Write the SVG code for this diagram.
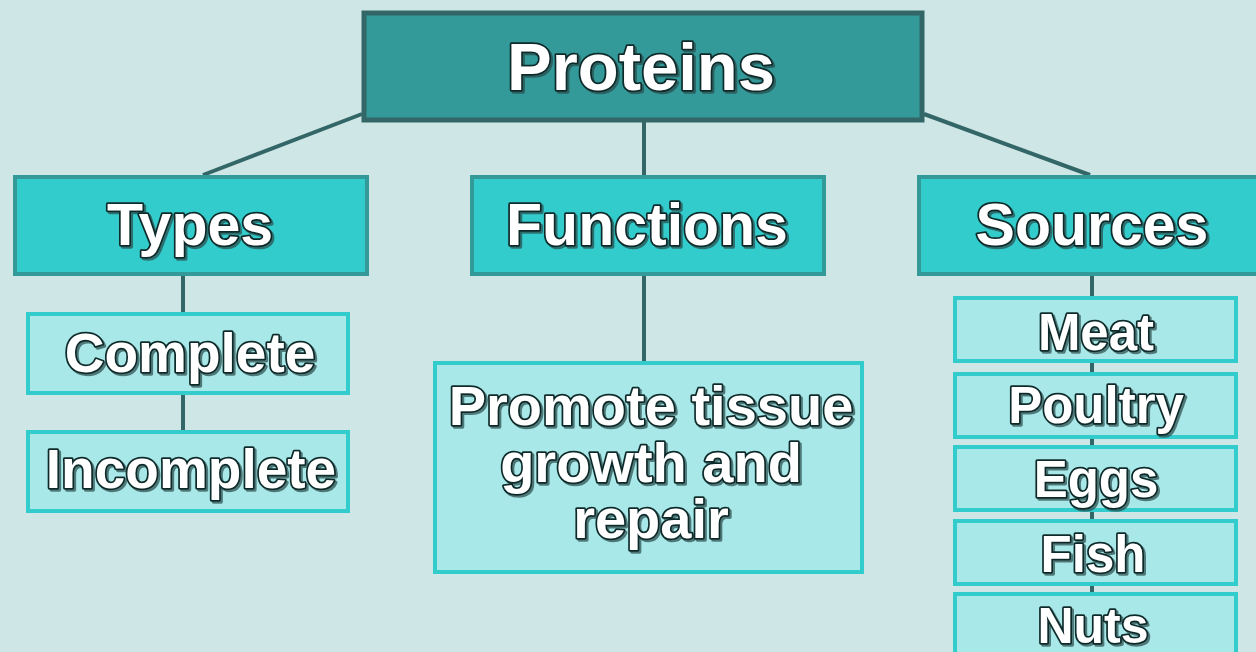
<svg xmlns="http://www.w3.org/2000/svg" width="1256" height="652" viewBox="0 0 1256 652">
<defs>
<style>
.bg{fill:#CFE6E7}
.l1{fill:#339999;stroke:#336666;stroke-width:5}
.l2{fill:#33CCCC;stroke:#339999;stroke-width:4}
.l3{fill:#A9E8E8;stroke:#33CCCC;stroke-width:4}
.c{stroke:#336666;stroke-width:4;fill:none}
text{font-family:"Liberation Sans",Arial,sans-serif;font-weight:bold;fill:#fff;stroke:#0f2a2a;stroke-width:3.5;paint-order:stroke;stroke-linejoin:round;text-anchor:middle;filter:url(#sh)}
</style>
<filter id="sh" x="-10%" y="-10%" width="120%" height="130%">
<feDropShadow dx="2" dy="2" stdDeviation="0.6" flood-color="#2a4a4a" flood-opacity="0.7"/>
</filter>
</defs>
<rect class="bg" x="0" y="0" width="1256" height="652"/>
<g id="connectors">
<line class="c" x1="362" y1="114" x2="203" y2="175"/>
<line class="c" x1="924" y1="114" x2="1090" y2="175"/>
<line class="c" x1="644" y1="121" x2="644" y2="176"/>
<line class="c" x1="183" y1="275" x2="183" y2="430"/>
<line class="c" x1="644" y1="275" x2="644" y2="361"/>
<line class="c" x1="1092" y1="275" x2="1092" y2="652"/>
</g>
<g id="proteins">
<rect class="l1" x="364" y="13" width="558" height="107"/>
<text x="641" y="90" font-size="67">Proteins</text>
</g>
<g id="types">
<rect class="l2" x="15" y="177" width="352" height="97"/>
<text x="190" y="245" font-size="59">Types</text>
</g>
<g id="functions">
<rect class="l2" x="472" y="177" width="352" height="97"/>
<text x="647" y="245" font-size="59">Functions</text>
</g>
<g id="sources">
<rect class="l2" x="919" y="177" width="345" height="97"/>
<text x="1092" y="245" font-size="59">Sources</text>
</g>
<g id="complete">
<rect class="l3" x="28" y="314" width="320" height="79"/>
<text x="190" y="372" font-size="55">Complete</text>
</g>
<g id="incomplete">
<rect class="l3" x="28" y="432" width="320" height="79"/>
<text x="191" y="488" font-size="55">Incomplete</text>
</g>
<g id="promote">
<rect class="l3" x="435" y="363" width="427" height="209"/>
<text x="651" y="425" font-size="56"><tspan x="651" y="425">Promote tissue</tspan><tspan x="651" y="482">growth and</tspan><tspan x="651" y="538">repair</tspan></text>
</g>
<g id="meat">
<rect class="l3" x="955" y="298" width="281" height="63"/>
<text x="1096" y="350" font-size="51">Meat</text>
</g>
<g id="poultry">
<rect class="l3" x="955" y="374" width="281" height="63"/>
<text x="1096" y="423" font-size="51">Poultry</text>
</g>
<g id="eggs">
<rect class="l3" x="955" y="447" width="281" height="63"/>
<text x="1096" y="497" font-size="51">Eggs</text>
</g>
<g id="fish">
<rect class="l3" x="955" y="521" width="281" height="63"/>
<text x="1093" y="572" font-size="51">Fish</text>
</g>
<g id="nuts">
<rect class="l3" x="955" y="594" width="281" height="70"/>
<text x="1093" y="643" font-size="50">Nuts</text>
</g>
</svg>
